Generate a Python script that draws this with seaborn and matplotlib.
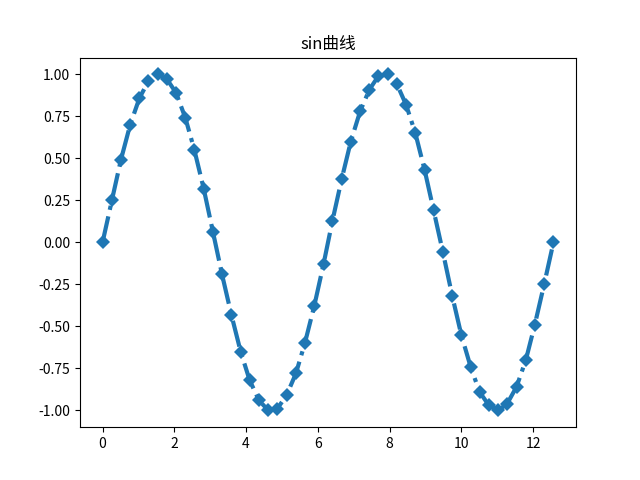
import matplotlib
matplotlib.use('Agg')
import matplotlib.pyplot as plt
import seaborn as sns
import pandas as pd

plt.rcParams['font.family'] = ['Noto Sans CJK SC', 'DejaVu Sans']
plt.rcParams['axes.unicode_minus'] = False

x = [0.00, 0.26, 0.51, 0.77, 1.03, 1.28, 1.54, 1.80, 2.05, 2.31,
     2.56, 2.82, 3.08, 3.33, 3.59, 3.85, 4.10, 4.36, 4.62, 4.87,
     5.13, 5.39, 5.64, 5.90, 6.16, 6.41, 6.67, 6.92, 7.18, 7.44,
     7.69, 7.95, 8.21, 8.46, 8.72, 8.98, 9.23, 9.49, 9.75, 10.00,
     10.26, 10.51, 10.77, 11.03, 11.28, 11.54, 11.80, 12.05, 12.31, 12.57]
y = [0.00, 0.25, 0.49, 0.70, 0.86, 0.96, 1.00, 0.97, 0.89, 0.74,
     0.55, 0.32, 0.06, -0.19, -0.43, -0.65, -0.82, -0.94, -1.00, -0.99,
     -0.91, -0.78, -0.60, -0.38, -0.13, 0.13, 0.38, 0.60, 0.78, 0.91,
     0.99, 1.00, 0.94, 0.82, 0.65, 0.43, 0.19, -0.06, -0.32, -0.55,
     -0.74, -0.89, -0.97, -1.00, -0.96, -0.86, -0.70, -0.49, -0.25, 0.00]

df = pd.DataFrame({'x': x, 'y': y})

fig = plt.figure(figsize=(6.4, 4.8), dpi=100)
ax = sns.lineplot(data=df, x='x', y='y', linestyle='-.', linewidth=3,
                  marker='D', markersize=7, markeredgewidth=0, color='#1f77b4')
ax.set_title('sin曲线')
ax.set_xlabel('')
ax.set_ylabel('')
plt.savefig('out.png', dpi=100)
